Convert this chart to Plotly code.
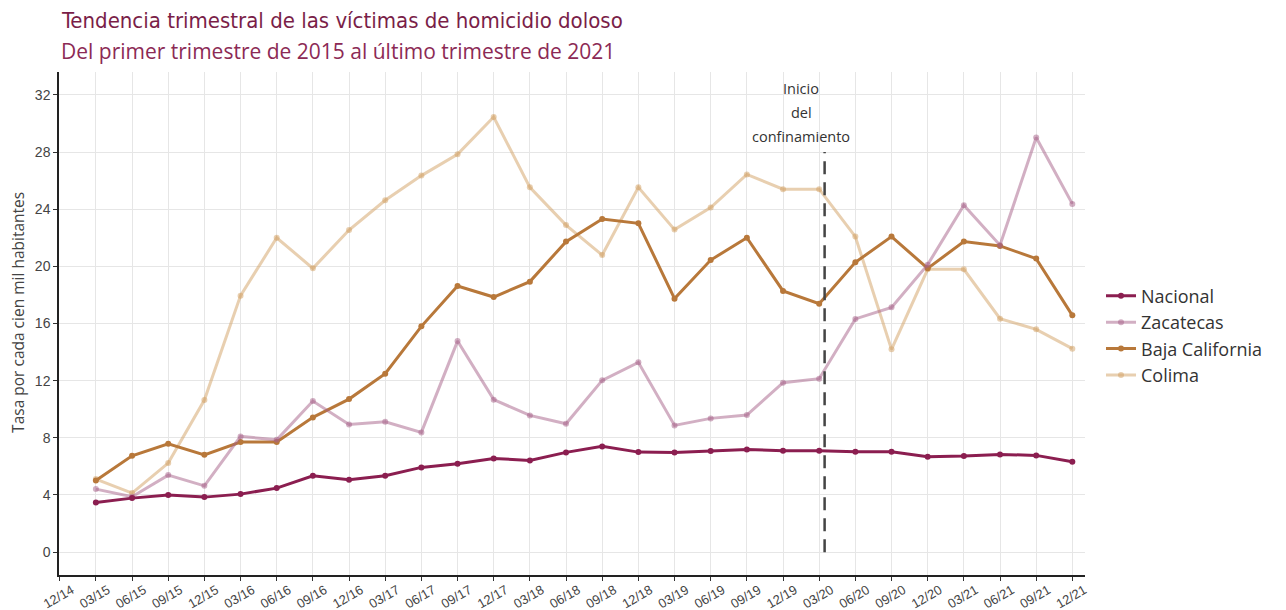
import plotly.graph_objects as go

# trimestres (eje x); el primero solo abre el eje
trimestres = ['12/14',
              '03/15', '06/15', '09/15', '12/15',
              '03/16', '06/16', '09/16', '12/16',
              '03/17', '06/17', '09/17', '12/17',
              '03/18', '06/18', '09/18', '12/18',
              '03/19', '06/19', '09/19', '12/19',
              '03/20', '06/20', '09/20', '12/20',
              '03/21', '06/21', '09/21', '12/21']
periodos = trimestres[1:]

# tasa por cada cien mil habitantes
nacional = [3.48, 3.78, 4.00, 3.85, 4.06, 4.48, 5.34, 5.06, 5.34, 5.93, 6.18, 6.56,
            6.42, 6.98, 7.40, 7.00, 6.98, 7.07, 7.19, 7.10, 7.10, 7.03, 7.03, 6.68,
            6.73, 6.84, 6.77, 6.33]
zacatecas = [4.41, 3.88, 5.39, 4.64, 8.10, 7.86, 10.57, 8.94, 9.12, 8.38, 14.77, 10.67,
             9.57, 8.98, 12.02, 13.28, 8.87, 9.36, 9.59, 11.86, 12.14, 16.32, 17.13, 20.12,
             24.28, 21.48, 29.01, 24.37]
baja_california = [5.02, 6.74, 7.58, 6.81, 7.70, 7.70, 9.43, 10.71, 12.49, 15.80, 18.62, 17.85,
                   18.93, 21.73, 23.31, 23.01, 17.74, 20.44, 22.00, 18.28, 17.39, 20.28, 22.08, 19.86,
                   21.73, 21.43, 20.54, 16.57]
colima = [5.11, 4.13, 6.23, 10.64, 17.95, 22.00, 19.86, 22.54, 24.62, 26.35, 27.84, 30.45,
          25.53, 22.89, 20.79, 25.53, 22.57, 24.11, 26.43, 25.40, 25.40, 22.08, 14.19, 19.79,
          19.79, 16.34, 15.59, 14.24]

series = [
    ('Nacional', nacional, '#8b1e50'),
    ('Zacatecas', zacatecas, 'rgba(165,95,135,0.5)'),
    ('Baja California', baja_california, '#b8783a'),
    ('Colima', colima, 'rgba(209,159,97,0.5)'),
]

fig = go.Figure()
# dibujar de atrás hacia adelante, pero la leyenda en el orden original
for orden, (nombre, valores, color) in reversed(list(enumerate(series))):
    fig.add_trace(go.Scatter(
        x=periodos, y=valores, name=nombre, mode='lines+markers',
        line=dict(color=color, width=3),
        marker=dict(color=color, size=6),
        legendrank=orden + 1,
    ))

# línea del inicio del confinamiento
fig.add_shape(type='line', xref='x', yref='y', x0=21.15, x1=21.15, y0=0, y1=28,
              line=dict(color='#444444', width=2.5, dash='13px,8px'))
for texto, yy in [('Inicio', 32.42), ('del', 30.74), ('confinamiento', 29.06)]:
    fig.add_annotation(x=20.5, y=yy, xref='x', yref='y', text=texto, showarrow=False,
                       font=dict(family='Open Sans, sans-serif', size=14.5, color='#333333'),
                       xanchor='center', yanchor='middle')

fig.add_annotation(x=0, y=1.103, xref='paper', yref='paper', xanchor='left', yanchor='middle',
                   text='Tendencia trimestral de las víctimas de homicidio doloso', showarrow=False,
                   font=dict(family='Liberation Sans Narrow, DejaVu Sans Condensed, sans-serif',
                             size=22, color='#7a1e48'))
fig.add_annotation(x=0, y=1.042, xref='paper', yref='paper', xanchor='left', yanchor='middle',
                   text='Del primer trimestre de 2015 al último trimestre de 2021', showarrow=False,
                   font=dict(family='Open Sans, sans-serif', size=21, color='#8c2a55'))
# título del eje y
fig.add_annotation(x=-0.04, y=0.523, xref='paper', yref='paper', xanchor='center', yanchor='middle',
                   text='Tasa por cada cien mil habitantes', showarrow=False, textangle=-90,
                   font=dict(family='Open Sans, sans-serif', size=15.5, color='#444444'))

# la página agrega 8 px de margen al cuerpo: la figura es 8 px más chica
fig.update_layout(
    width=1278, height=602,
    margin=dict(l=51, r=201, t=64, b=35, autoexpand=False),
    paper_bgcolor='white', plot_bgcolor='white',
    font=dict(family='Liberation Sans, Arial, sans-serif', color='#444444'),
    showlegend=True,
    legend=dict(x=1.0156, y=0.476, xanchor='left', yanchor='middle',
                font=dict(family='Open Sans, sans-serif', size=18, color='#333333'),
                itemwidth=30, tracegroupgap=0, bgcolor='rgba(0,0,0,0)'),
    xaxis=dict(
        type='category', categoryorder='array', categoryarray=trimestres,
        tickmode='array', tickvals=trimestres, ticktext=trimestres,
        range=[-0.02, 28.35], tickangle=-30, tickfont=dict(size=13, color='#444444'),
        ticklabelshift=12, ticklabelstandoff=-3,
        showgrid=True, gridcolor='#e6e6e6', gridwidth=1, automargin=False,
        showline=True, linecolor='#222222', linewidth=1.5,
        ticks='outside', ticklen=4, tickcolor='#333333', zeroline=False,
    ),
    yaxis=dict(
        range=[-1.6, 33.6], tickmode='array', tickvals=list(range(0, 33, 4)),
        tickfont=dict(size=14, color='#444444'), automargin=False,
        showgrid=True, gridcolor='#e6e6e6', gridwidth=1,
        showline=True, linecolor='#222222', linewidth=1.5,
        ticks='outside', ticklen=4, tickcolor='#333333', zeroline=False,
    ),
)

fig.write_html('out.html')
